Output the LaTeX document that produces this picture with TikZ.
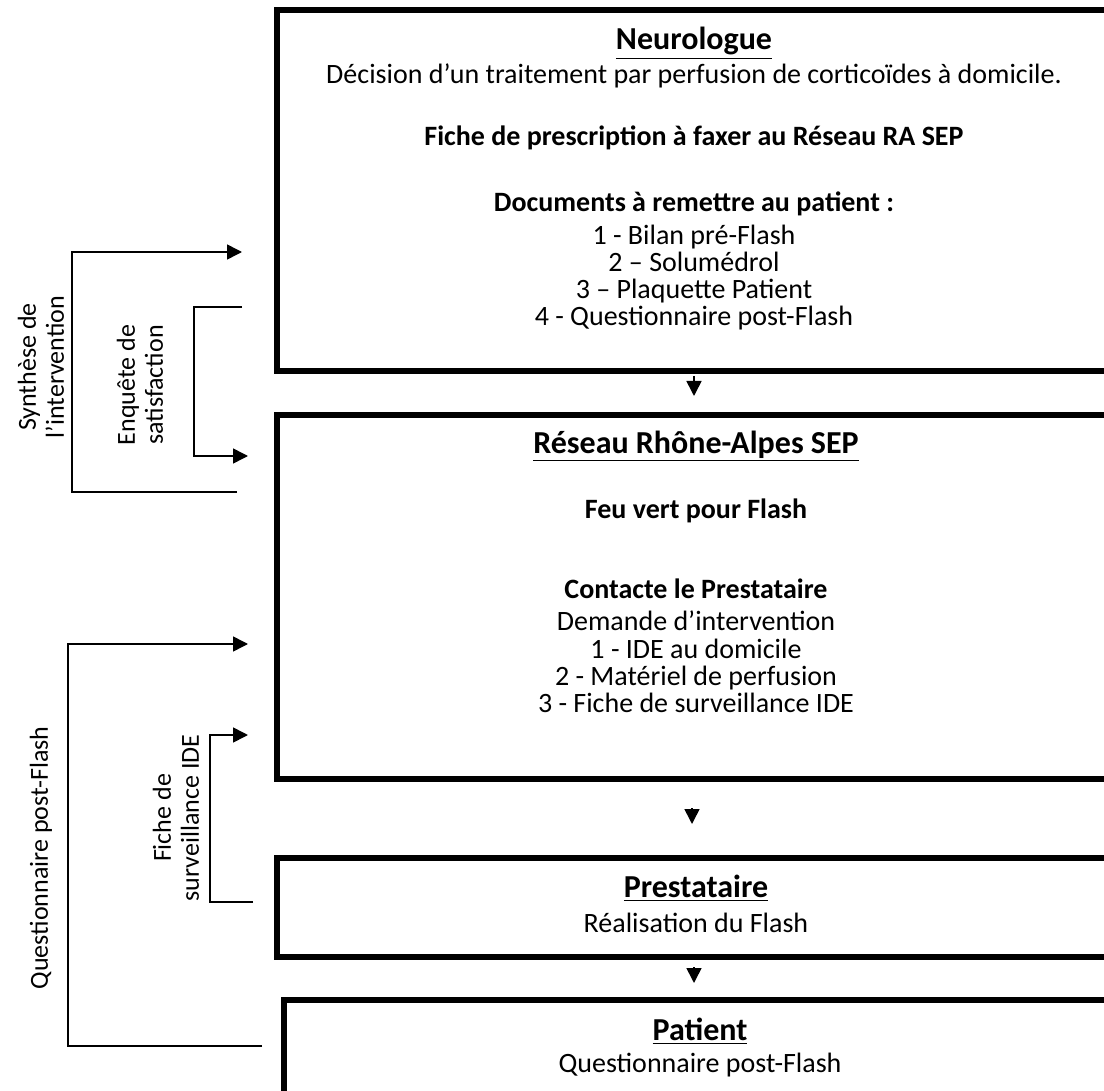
\documentclass[tikz,border=0pt]{standalone}
\usepackage{fontspec}
\setmainfont{Carlito}
\usetikzlibrary{positioning,arrows.meta}

\begin{document}
\begin{tikzpicture}[
  x=0.5pt, y=-0.5pt,
  >={Triangle[length=7.5pt, width=7.5pt]},
  box/.style={draw, line width=2.8pt, anchor=north west, inner sep=0pt},
  txt/.style={anchor=base, inner sep=0pt, font=\fontsize{14}{14}\selectfont},
  bold/.style={txt, font=\fontsize{14}{14}\selectfont\bfseries},
  head/.style={txt, font=\fontsize{16}{17}\selectfont\bfseries},
  side/.style={rotate=90, align=center, inner sep=0pt, font=\fontsize{13}{14}\selectfont},
  back/.style={->, line width=0.8pt}
]
\useasboundingbox (0,0) rectangle (1104,1091);
\clip (0,0) rectangle (1104,1091);

% the four boxes, cut by the right edge
\node[box, minimum width=420pt, minimum height=180.5pt] (neuro) at (274,7) {};
\node[box, minimum width=420pt, minimum height=182pt] (reseau) at (274,412) {};
\node[box, minimum width=420pt, minimum height=49.5pt] (presta) at (274,855) {};
\node[box, minimum width=420pt, minimum height=75pt] (patient) at (281,997) {};

% Neurologue
\node[head] (neuroT) at (694,50) {\underline{Neurologue}};
\node[txt] (neuroA) at (694,84) {Décision d’un traitement par perfusion de corticoïdes à domicile.};
\node[bold] (neuroB) at (694,146) {Fiche de prescription à faxer au Réseau RA SEP};
\node[bold] (neuroC) at (694,212) {Documents à remettre au patient :};
\node[txt] (neuroC1) at (694,245) {1 - Bilan pré-Flash};
\node[txt] (neuroC2) at (694,272) {2 – Solumédrol};
\node[txt] (neuroC3) at (694,299) {3 – Plaquette Patient};
\node[txt] (neuroC4) at (694,326) {4 - Questionnaire post-Flash};

% Reseau
\node[head] (reseauT) at (696,453) {\underline{Réseau Rhône-Alpes SEP}};
\node[bold] (reseauA) at (696,518) {Feu vert pour Flash};
\node[bold] (reseauB) at (696,598) {Contacte le Prestataire};
\node[txt] (reseauB0) at (696,630) {Demande d’intervention};
\node[txt] (reseauB1) at (696,658) {1 - IDE au domicile};
\node[txt] (reseauB2) at (696,685) {2 - Matériel de perfusion};
\node[txt] (reseauB3) at (696,712) {3 - Fiche de surveillance IDE};

% Prestataire, Patient
\node[head] (prestaT) at (696,897) {\underline{Prestataire}};
\node[txt] (prestaA) at (696,932) {Réalisation du Flash};
\node[head] (patientT) at (700,1040) {\underline{Patient}};
\node[txt] (patientA) at (700,1072) {Questionnaire post-Flash};

% down arrows between the boxes
\coordinate (d1a) at (694,376);
\coordinate (d1b) at (694,396);
\coordinate (d2a) at (692,808);
\coordinate (d2b) at (692,824);
\coordinate (d3a) at (694,967);
\coordinate (d3b) at (694,983);
\draw[back] (d1a) -- (d1b);
\draw[back] (d2a) -- (d2b);
\draw[back] (d3a) -- (d3b);

% return loops on the left
\coordinate (synFrom) at (237,492);
\coordinate (synTo) at (242,252);
\coordinate (enqFrom) at (242,307);
\coordinate (enqTo) at (248,456);
\coordinate (quesFrom) at (262,1046);
\coordinate (quesTo) at (248,644);
\coordinate (ficheFrom) at (253,902);
\coordinate (ficheTo) at (248,735);
\draw[back] (synFrom) -| (72,252) -- (synTo);
\draw[back] (enqFrom) -| (194,456) -- (enqTo);
\draw[back] (quesFrom) -| (68,644) -- (quesTo);
\draw[back] (ficheFrom) -| (210,735) -- (ficheTo);

\node[side] (synL) at (41,367) {Synthèse de\\l’intervention};
\node[side] (enqL) at (140,385) {Enquête de\\satisfaction};
\node[side] (quesL) at (41,858) {Questionnaire post-Flash};
\node[side] (ficheL) at (176,818) {Fiche de\\surveillance IDE};
\end{tikzpicture}
\end{document}
